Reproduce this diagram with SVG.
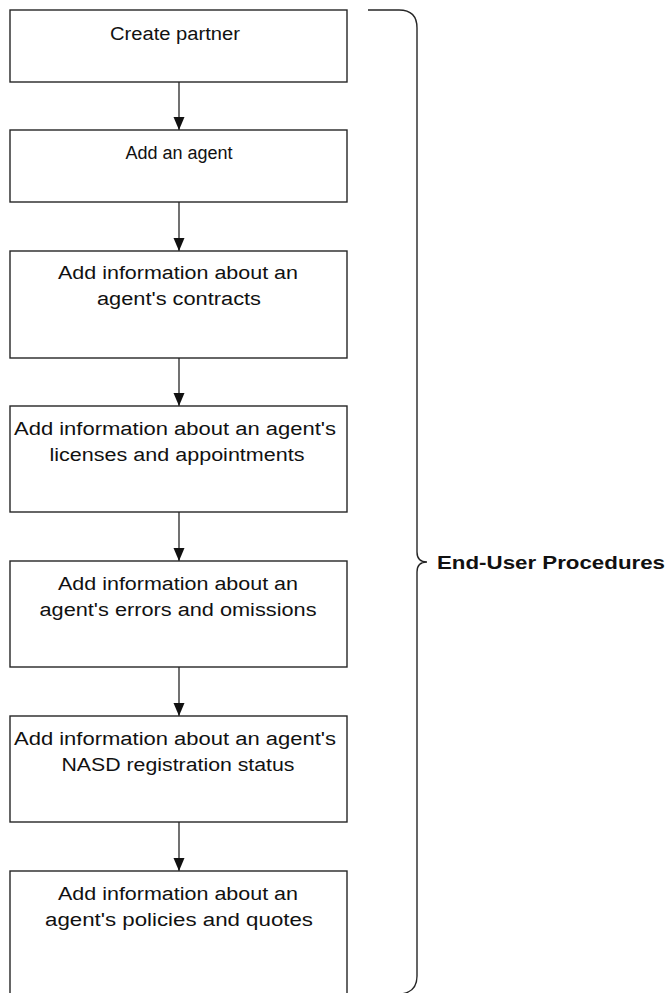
<svg xmlns="http://www.w3.org/2000/svg" width="666" height="993" viewBox="0 0 666 993">
  <style>
    .box { fill: #ffffff; stroke: #262626; stroke-width: 1.4; }
    .lbl { font-family: "Liberation Sans", Arial, sans-serif; font-size: 18px; fill: #111111; text-anchor: middle; }
    .edge { stroke: #262626; stroke-width: 1.3; fill: none; }
    .brace { stroke: #262626; stroke-width: 1.4; fill: none; }
    .side { font-family: "Liberation Sans", Arial, sans-serif; font-size: 19px; font-weight: bold; fill: #111111; }
  </style>
  <defs>
    <marker id="arrow" markerUnits="userSpaceOnUse" markerWidth="14" markerHeight="12" refX="13" refY="5.5" orient="auto">
      <path d="M0,0 L13,5.5 L0,11 z" fill="#111111"/>
    </marker>
  </defs>
  <rect width="666" height="993" fill="#ffffff"/>

  <g id="connectors">
    <line class="edge" x1="179" y1="82" x2="179" y2="130" marker-end="url(#arrow)"/>
    <line class="edge" x1="179" y1="202" x2="179" y2="251" marker-end="url(#arrow)"/>
    <line class="edge" x1="179" y1="358" x2="179" y2="406" marker-end="url(#arrow)"/>
    <line class="edge" x1="179" y1="512" x2="179" y2="561" marker-end="url(#arrow)"/>
    <line class="edge" x1="179" y1="667" x2="179" y2="716" marker-end="url(#arrow)"/>
    <line class="edge" x1="179" y1="822" x2="179" y2="871" marker-end="url(#arrow)"/>
  </g>

  <g id="create-partner">
    <rect class="box" x="10" y="10" width="337" height="72"/>
    <text class="lbl" x="175" y="40" textLength="130" lengthAdjust="spacingAndGlyphs">Create partner</text>
  </g>

  <g id="add-agent">
    <rect class="box" x="10" y="130" width="337" height="72"/>
    <text class="lbl" x="179" y="159">Add an agent</text>
  </g>

  <g id="contracts">
    <rect class="box" x="10" y="251" width="337" height="107"/>
    <text class="lbl" x="178" y="279" textLength="240" lengthAdjust="spacingAndGlyphs">Add information about an</text>
    <text class="lbl" x="179" y="305" textLength="164" lengthAdjust="spacingAndGlyphs">agent's contracts</text>
  </g>

  <g id="licenses">
    <rect class="box" x="10" y="406" width="337" height="106"/>
    <text class="lbl" x="175" y="435" textLength="322" lengthAdjust="spacingAndGlyphs">Add information about an agent's</text>
    <text class="lbl" x="177" y="461" textLength="255" lengthAdjust="spacingAndGlyphs">licenses and appointments</text>
  </g>

  <g id="errors-omissions">
    <rect class="box" x="10" y="561" width="337" height="106"/>
    <text class="lbl" x="178" y="590" textLength="240" lengthAdjust="spacingAndGlyphs">Add information about an</text>
    <text class="lbl" x="178" y="616" textLength="277" lengthAdjust="spacingAndGlyphs">agent's errors and omissions</text>
  </g>

  <g id="nasd-status">
    <rect class="box" x="10" y="716" width="337" height="106"/>
    <text class="lbl" x="175" y="745" textLength="322" lengthAdjust="spacingAndGlyphs">Add information about an agent's</text>
    <text class="lbl" x="178" y="771" textLength="233" lengthAdjust="spacingAndGlyphs">NASD registration status</text>
  </g>

  <g id="policies-quotes">
    <rect class="box" x="10" y="871" width="337" height="140"/>
    <text class="lbl" x="178" y="900" textLength="240" lengthAdjust="spacingAndGlyphs">Add information about an</text>
    <text class="lbl" x="179" y="926" textLength="268" lengthAdjust="spacingAndGlyphs">agent's policies and quotes</text>
  </g>

  <g id="end-user-procedures">
    <path class="brace" d="M368,10 L399,10 Q417,10 417,28 L417,552 Q417,562 427,562 Q417,562 417,572 L417,976 Q417,992 401,994"/>
    <text class="side" x="437" y="569" textLength="228" lengthAdjust="spacingAndGlyphs">End-User Procedures</text>
  </g>
</svg>
